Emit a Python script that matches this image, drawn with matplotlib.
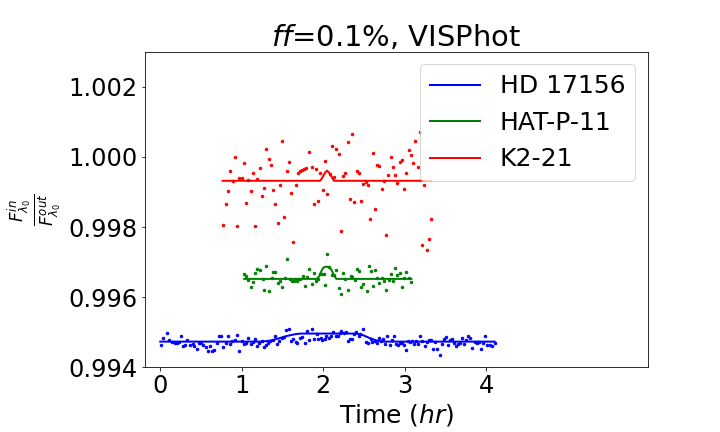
import numpy as np
import matplotlib
matplotlib.use("Agg")
import matplotlib.pyplot as plt

# --- HD 17156 (blue) ---
hd_time = [0.004, 0.037, 0.086, 0.110, 0.147, 0.180, 0.208, 0.233, 0.257, 0.282,
           0.306, 0.331, 0.364, 0.396, 0.417, 0.445, 0.470, 0.498, 0.527, 0.556,
           0.588, 0.609, 0.637, 0.658, 0.690, 0.715, 0.743, 0.772, 0.801, 0.829,
           0.858, 0.886, 0.911, 0.940, 0.968, 1.001, 1.025, 1.050, 1.078, 1.107,
           1.132, 1.160, 1.189, 1.213, 1.242, 1.270, 1.295, 1.324, 1.352, 1.377,
           1.405, 1.434, 1.458, 1.487, 1.516, 1.548, 1.577, 1.601, 1.626, 1.659,
           1.683, 1.712, 1.740, 1.769, 1.801, 1.830, 1.863, 1.887, 1.916, 1.936,
           1.965, 1.989, 2.018, 2.038, 2.067, 2.096, 2.124, 2.149, 2.177, 2.198,
           2.222, 2.251, 2.275, 2.300, 2.324, 2.353, 2.377, 2.406, 2.431, 2.455,
           2.488, 2.520, 2.549, 2.578, 2.602, 2.631, 2.659, 2.684, 2.712, 2.733,
           2.761, 2.786, 2.815, 2.839, 2.864, 2.888, 2.913, 2.937, 2.962, 2.986,
           3.015, 3.043, 3.068, 3.092, 3.117, 3.141, 3.166, 3.190, 3.215, 3.243,
           3.272, 3.297, 3.321, 3.346, 3.370, 3.399, 3.427, 3.452, 3.476, 3.501,
           3.529, 3.550, 3.578, 3.607, 3.632, 3.652, 3.681, 3.705, 3.730, 3.754,
           3.779, 3.803, 3.828, 3.856, 3.885, 3.909, 3.934, 3.958, 3.983, 4.007,
           4.040, 4.073, 4.101]
hd_flux = [0.99463, 0.99483, 0.99497, 0.99477, 0.99472, 0.99470, 0.99470, 0.99472, 0.99488, 0.99461,
           0.99463, 0.99477, 0.99463, 0.99466, 0.99461, 0.99451, 0.99469, 0.99469, 0.99463, 0.99457,
           0.99446, 0.99460, 0.99447, 0.99448, 0.99468, 0.99488, 0.99488, 0.99457, 0.99468, 0.99488,
           0.99467, 0.99475, 0.99479, 0.99491, 0.99446, 0.99476, 0.99466, 0.99468, 0.99483, 0.99467,
           0.99471, 0.99480, 0.99461, 0.99468, 0.99475, 0.99458, 0.99464, 0.99468, 0.99476, 0.99479,
           0.99488, 0.99466, 0.99476, 0.99483, 0.99486, 0.99505, 0.99508, 0.99476, 0.99480, 0.99471,
           0.99468, 0.99484, 0.99486, 0.99470, 0.99503, 0.99478, 0.99508, 0.99480, 0.99494, 0.99480,
           0.99483, 0.99478, 0.99481, 0.99489, 0.99483, 0.99488, 0.99500, 0.99488, 0.99489, 0.99499,
           0.99504, 0.99497, 0.99500, 0.99476, 0.99480, 0.99481, 0.99495, 0.99500, 0.99488, 0.99495,
           0.99508, 0.99473, 0.99468, 0.99480, 0.99472, 0.99476, 0.99469, 0.99483, 0.99474, 0.99480,
           0.99467, 0.99488, 0.99464, 0.99478, 0.99488, 0.99465, 0.99463, 0.99468, 0.99468, 0.99462,
           0.99450, 0.99476, 0.99472, 0.99475, 0.99467, 0.99475, 0.99467, 0.99488, 0.99475, 0.99461,
           0.99472, 0.99477, 0.99477, 0.99451, 0.99472, 0.99453, 0.99434, 0.99467, 0.99480, 0.99486,
           0.99464, 0.99478, 0.99480, 0.99468, 0.99460, 0.99467, 0.99470, 0.99482, 0.99465, 0.99478,
           0.99489, 0.99483, 0.99456, 0.99472, 0.99468, 0.99472, 0.99453, 0.99470, 0.99489, 0.99463,
           0.99462, 0.99460, 0.99470]
hd_model_time = [0.0, 1.25, 1.35, 1.45, 1.55, 1.65, 1.72, 2.40, 2.48, 2.56, 2.64, 2.72, 4.10]
hd_model_flux = [0.99473, 0.99473, 0.99476, 0.99482, 0.99489, 0.99494, 0.99496, 0.99496,
                 0.99492, 0.99484, 0.99477, 0.99473, 0.99473]

# --- HAT-P-11 (green) ---
hat_time = [1.030, 1.050, 1.079, 1.116, 1.140, 1.165, 1.189, 1.222, 1.254, 1.275,
            1.299, 1.336, 1.365, 1.385, 1.410, 1.446, 1.467, 1.495, 1.524, 1.557,
            1.589, 1.614, 1.634, 1.655, 1.671, 1.691, 1.716, 1.753, 1.777, 1.802,
            1.826, 1.863, 1.888, 1.912, 1.933, 1.957, 1.982, 2.002, 2.026, 2.047,
            2.071, 2.104, 2.129, 2.157, 2.194, 2.218, 2.243, 2.267, 2.304, 2.333,
            2.357, 2.382, 2.415, 2.439, 2.464, 2.488, 2.529, 2.554, 2.578, 2.611,
            2.635, 2.660, 2.684, 2.717, 2.741, 2.774, 2.799, 2.831, 2.856, 2.880,
            2.905, 2.937, 2.966, 2.991, 3.019, 3.052, 3.076]
hat_flux = [0.996656, 0.996590, 0.996485, 0.996285, 0.996428, 0.996685, 0.996799, 0.996761, 0.996513, 0.996199,
            0.996885, 0.996170, 0.996551, 0.996713, 0.996713, 0.996399, 0.996456, 0.996285, 0.996532, 0.997085,
            0.996513, 0.996466, 0.996456, 0.996513, 0.996456, 0.996513, 0.996523, 0.996599, 0.996313, 0.996571,
            0.996799, 0.996370, 0.996685, 0.996456, 0.996523, 0.996666, 0.996656, 0.996656, 0.996342, 0.997228,
            0.996856, 0.996628, 0.996628, 0.996761, 0.996266, 0.996085, 0.996685, 0.996513, 0.996189, 0.996599,
            0.996580, 0.996485, 0.996799, 0.996742, 0.996285, 0.996370, 0.996170, 0.996885, 0.996742, 0.996313,
            0.996761, 0.996542, 0.996399, 0.996542, 0.996466, 0.996199, 0.996494, 0.996656, 0.996456, 0.996828,
            0.996618, 0.996685, 0.996285, 0.996542, 0.996713, 0.996542, 0.996428]
hat_model_time = [1.03, 1.92, 1.95, 1.98, 2.00, 2.03, 2.07, 2.10, 2.13, 2.16, 3.08]
hat_model_flux = [0.99652, 0.99652, 0.99660, 0.99676, 0.99684, 0.99687, 0.99686,
                  0.99678, 0.99662, 0.99652, 0.99652]

# --- K2-21 (red) ---
k2_time = [0.773, 0.809, 0.834, 0.858, 0.895, 0.920, 0.945, 0.969, 1.001, 1.030,
           1.054, 1.079, 1.116, 1.140, 1.165, 1.189, 1.226, 1.250, 1.275, 1.299,
           1.336, 1.361, 1.385, 1.410, 1.446, 1.471, 1.495, 1.520, 1.557, 1.581,
           1.606, 1.630, 1.667, 1.691, 1.716, 1.740, 1.765, 1.789, 1.826, 1.863,
           1.888, 1.912, 1.937, 1.961, 1.998, 2.022, 2.047, 2.080, 2.108, 2.133,
           2.157, 2.194, 2.218, 2.243, 2.267, 2.304, 2.329, 2.353, 2.378, 2.415,
           2.439, 2.464, 2.488, 2.525, 2.549, 2.574, 2.611, 2.635, 2.660, 2.684,
           2.721, 2.745, 2.770, 2.794, 2.831, 2.856, 2.880, 2.905, 2.941, 2.966,
           2.991, 3.015, 3.052, 3.076, 3.101, 3.125, 3.162, 3.187, 3.211, 3.236,
           3.272, 3.297, 3.321]
k2_flux = [0.998056, 0.998656, 0.999028, 0.999599, 0.999304, 0.999999, 0.998027, 0.999399, 0.999399, 0.999828,
           0.998685, 0.999342, 0.999028, 0.999542, 0.998027, 0.999370, 0.999685, 0.998885, 0.999113, 1.000228,
           0.999942, 0.999770, 0.999056, 0.998656, 0.998113, 0.999199, 1.000456, 0.998285, 0.999599, 0.999856,
           0.998970, 0.997570, 0.999199, 0.999542, 0.999599, 0.999628, 0.999656, 0.999685, 1.000142, 0.999713,
           0.998656, 0.999656, 0.998742, 0.999542, 0.999056, 0.999885, 0.998942, 0.999513, 1.000313, 0.999428,
           1.000228, 1.000085, 0.997885, 0.999456, 0.999542, 1.000428, 0.998799, 1.000656, 0.998713, 0.999599,
           0.999542, 0.998742, 0.999228, 0.999285, 0.999199, 0.998228, 1.000113, 0.998513, 0.999770, 0.999742,
           0.999085, 0.999313, 0.997770, 0.999485, 0.999999, 0.999713, 0.999485, 0.999256, 0.999856, 0.999913,
           0.999085, 0.999542, 1.000199, 1.000056, 0.999828, 1.000456, 0.999713, 1.000713, 0.997485, 0.999199,
           0.997342, 0.997656, 0.998228]
k2_model_time = [0.764, 1.96, 1.99, 2.02, 2.045, 2.07, 2.10, 2.13, 3.326]
k2_model_flux = [0.99932, 0.99932, 0.99942, 0.99955, 0.99961, 0.99955, 0.99944, 0.99932, 0.99932]

stars = [
    ("HD 17156", "blue", hd_time, hd_flux, hd_model_time, hd_model_flux),
    ("HAT-P-11", "green", hat_time, hat_flux, hat_model_time, hat_model_flux),
    ("K2-21", "red", k2_time, k2_flux, k2_model_time, k2_model_flux),
]

fig = plt.figure(figsize=(10, 6), dpi=72)
ax = fig.add_axes([0.201, 0.150, 0.699, 0.730])

for name, color, t, f, mt, mf in stars:
    ax.plot(np.array(t), np.array(f), ".", color=color, ms=5)
    ax.plot(np.array(mt), np.array(mf), "-", color=color, lw=2, label=name)

ax.set_xlim(-0.19, 5.98)
ax.set_ylim(0.994, 1.003)
ax.set_xticks([0, 1, 2, 3, 4])
ax.set_yticks([0.994, 0.996, 0.998, 1.000, 1.002])
ax.tick_params(labelsize=24)
ax.set_xlabel("Time ($hr$)", fontsize=25)
ax.set_ylabel(r"$\frac{F^{in}_{\lambda_0}}{F^{out}_{\lambda_0}}$", fontsize=24)
ax.set_title("$ff$=0.1%, VISPhot", fontsize=29)
ax.legend(loc="upper right", fontsize=25)

fig.savefig("out.png", dpi=72)
plt.close(fig)
